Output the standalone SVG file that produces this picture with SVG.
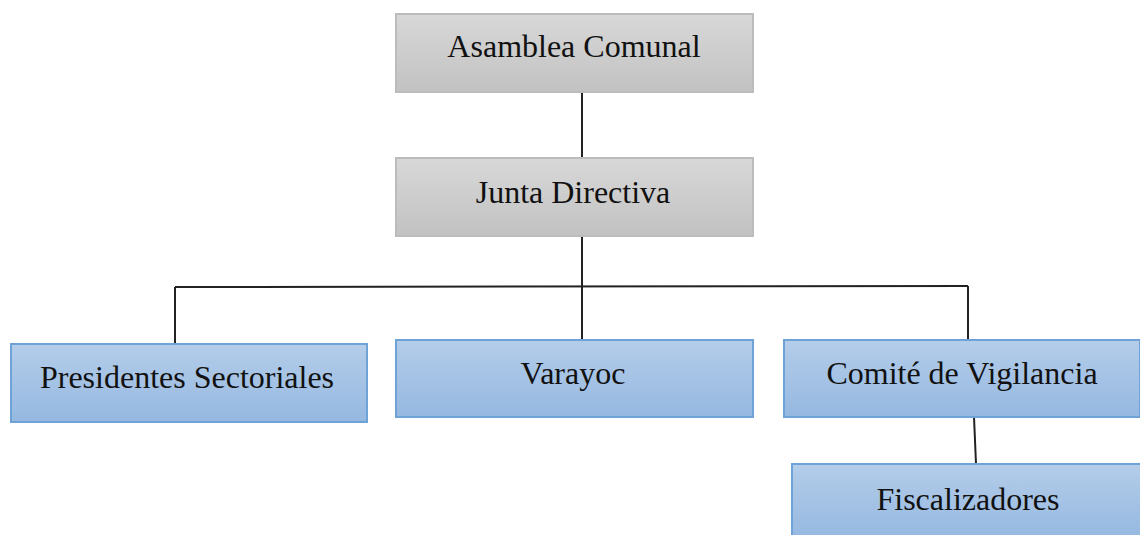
<svg xmlns="http://www.w3.org/2000/svg" width="1140" height="535" viewBox="0 0 1140 535">
<defs>
<linearGradient id="gGray" x1="0" y1="0" x2="0" y2="1"><stop offset="0" stop-color="#d8d8d8"/><stop offset="1" stop-color="#c2c2c2"/></linearGradient>
<linearGradient id="gBlue" x1="0" y1="0" x2="0" y2="1"><stop offset="0" stop-color="#b4cde9"/><stop offset="1" stop-color="#95b8e1"/></linearGradient>
<style>
.gray{fill:url(#gGray);stroke:#bcbcbc;stroke-width:2}
.blue{fill:url(#gBlue);stroke:#6fa3d8;stroke-width:2}
.t{font-family:"Liberation Serif","Times New Roman",serif;font-size:32px;fill:#111;text-anchor:middle}
.c{stroke:#222;stroke-width:2;fill:none}
</style>
</defs>
<rect width="1140" height="535" fill="#fff"/>
<g id="connectors">
<line class="c" x1="582" y1="92" x2="582" y2="158"/>
<line class="c" x1="582" y1="236" x2="582" y2="340"/>
<line class="c" x1="175" y1="287" x2="968" y2="286"/>
<line class="c" x1="175" y1="287" x2="175" y2="343"/>
<line class="c" x1="968" y1="286" x2="968" y2="340"/>
<line class="c" x1="974" y1="417" x2="976" y2="464"/>
</g>
<g id="asamblea"><rect class="gray" x="396" y="14" width="357" height="78"/><text class="t" x="574" y="57">Asamblea Comunal</text></g>
<g id="junta"><rect class="gray" x="396" y="158" width="357" height="78"/><text class="t" x="573" y="203">Junta Directiva</text></g>
<g id="presidentes"><rect class="blue" x="11" y="344" width="356" height="78"/><text class="t" x="187" y="388">Presidentes Sectoriales</text></g>
<g id="varayoc"><rect class="blue" x="396" y="340" width="357" height="77"/><text class="t" x="573" y="384">Varayoc</text></g>
<g id="comite"><rect class="blue" x="784" y="340" width="356" height="77"/><text class="t" x="962" y="384">Comité de Vigilancia</text></g>
<g id="fiscalizadores"><rect class="blue" x="792" y="464" width="350" height="75"/><text class="t" x="968" y="510">Fiscalizadores</text></g>
</svg>
